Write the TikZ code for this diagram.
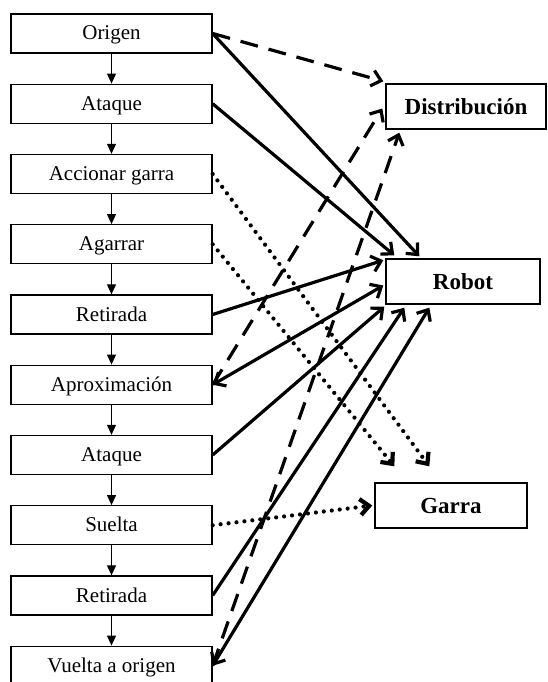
\documentclass[tikz,border=0pt]{standalone}
\usepackage{fontspec}
\setmainfont{Liberation Serif}
\usetikzlibrary{arrows.meta,calc}
\begin{document}
\begin{tikzpicture}[x=1pt,y=-1pt,
  stepbox/.style={draw, line width=1.3pt, minimum width=201pt, minimum height=39pt, inner sep=0pt, text height=14pt, text depth=1pt, font=\fontsize{21}{24}\selectfont},
  bigbox/.style={draw, line width=1.4pt, minimum height=45pt, inner sep=0pt, font=\bfseries\fontsize{23}{26}\selectfont},
  flow/.style={line width=1.1pt, -{Triangle[length=10pt,width=9pt]}},
  tipc/.style={-{Straight Barb[length=9pt,width=16pt]}},
  tipb/.style={{Straight Barb[length=9pt,width=16pt]}-{Straight Barb[length=9pt,width=16pt]}},
  solidc/.style={line width=3.2pt},
  dashc/.style={line width=3.2pt, dash pattern=on 18pt off 11pt},
  dotc/.style={line width=4.2pt, line cap=round, dash pattern=on 0pt off 8pt}
]
\useasboundingbox (0,0) rectangle (547,682);

\node[stepbox] (n0) at (111.5,33.5) {Origen};
\node[stepbox] (n1) at (111.5,103.75) {Ataque};
\node[stepbox] (n2) at (111.5,174) {Accionar garra};
\node[stepbox] (n3) at (111.5,244.25) {Agarrar};
\node[stepbox] (n4) at (111.5,314.5) {Retirada};
\node[stepbox] (n5) at (111.5,384.75) {Aproximación};
\node[stepbox] (n6) at (111.5,455) {Ataque};
\node[stepbox] (n7) at (111.5,525.25) {Suelta};
\node[stepbox] (n8) at (111.5,595.5) {Retirada};
\node[stepbox] (n9) at (111.5,665.75) {Vuelta a origen};

\node[bigbox, minimum width=160pt] (dis) at (466,106.5) {Distribución};
\node[bigbox, minimum width=154pt] (rob) at (463,281.5) {Robot};
\node[bigbox, minimum width=152pt] (gar) at (451,505.5) {Garra};

\foreach \a/\b in {n0/n1,n1/n2,n2/n3,n3/n4,n4/n5,n5/n6,n6/n7,n7/n8,n8/n9}
  \draw[flow] (\a) -- (\b);

% solid connectors to Robot
\draw[solidc,tipc] (n0.east) -- ($(rob.north west)+(34,-2)$);
\draw[solidc,tipc] (n1.east) -- ($(rob.north west)+(9,-3)$);
\draw[solidc,tipc] (n4.east) -- ($(rob.north west)+(-2,2)$);
\draw[solidc,tipb] (n5.east) -- ($(rob.west)+(-2,4)$);
\draw[solidc,tipc] (n6.east) -- ($(rob.south west)+(-1,2)$);
\draw[solidc,tipc] (n8.east) -- ($(rob.south west)+(19,3)$);
\draw[solidc,tipb] (n9.east) -- ($(rob.south west)+(44,3)$);

% dashed connectors to Distribución
\draw[dashc,tipc] (n0.east) -- ($(dis.north west)+(-2,-2)$);
\draw[dashc,tipc] (n5.east) -- ($(dis.west)+(-3,2)$);
\draw[dashc,tipc] (n9.east) -- ($(dis.south west)+(14,3)$);

% dotted connectors to Garra
\draw[dotc,tipc] (n2.east) -- ($(gar.north west)+(55,-16)$);
\draw[dotc,tipc] (n3.east) -- ($(gar.north west)+(20,-16)$);
\draw[dotc,tipc] (n7.east) -- ($(gar.west)+(-2,0)$);
\end{tikzpicture}
\end{document}
